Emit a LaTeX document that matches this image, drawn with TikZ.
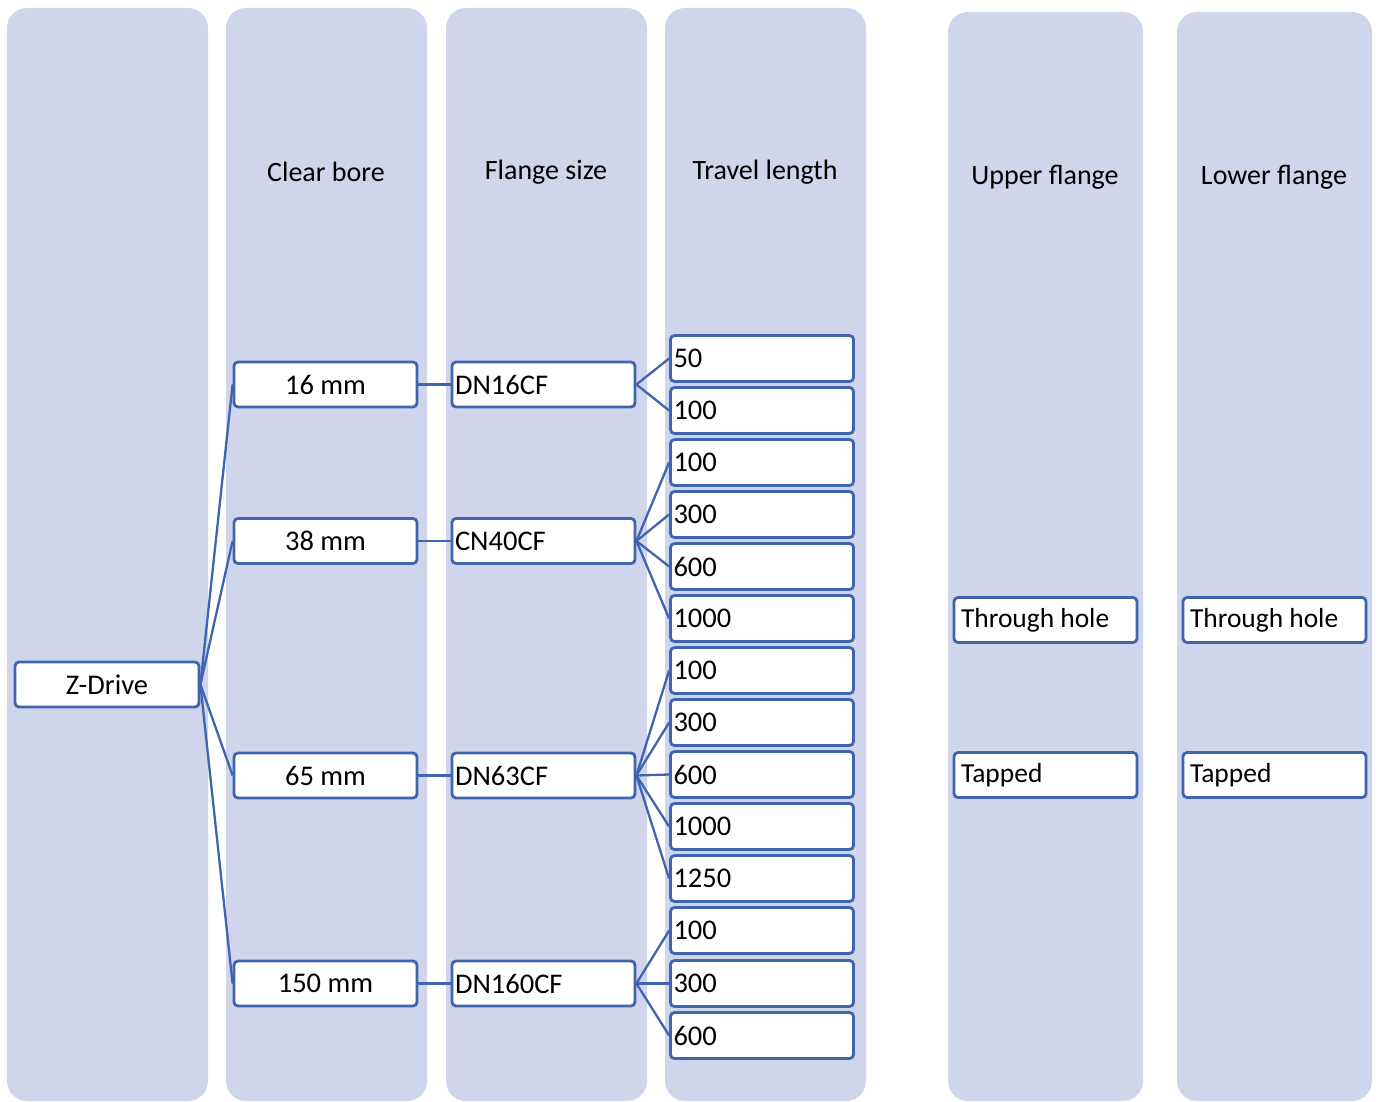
\documentclass[tikz,border=0pt]{standalone}
\usepackage{fontspec}
\setmainfont{Carlito}
\definecolor{colfill}{HTML}{CFD5EA}
\definecolor{edge}{HTML}{3F65B1}
\begin{document}
\begin{tikzpicture}[x=1pt,y=-1pt,
  col/.style={fill=colfill,draw=none,rounded corners=20pt},
  hdr/.style={font=\fontsize{28}{33}\selectfont,text=black},
  bx/.style={draw=edge,line width=2.8pt,fill=white,rounded corners=4pt,
     minimum width=183pt,minimum height=45pt,inner sep=0pt,
     font=\fontsize{28.5}{33}\selectfont},
  lbx/.style={bx,text width=177pt,inner xsep=3pt,align=left},
  fbx/.style={bx,text width=169pt,inner xsep=7pt,align=left,
     font=\fontsize{27.5}{33}\selectfont},
  con/.style={draw=edge,line width=2.3pt}]
\useasboundingbox (0,0) rectangle (1378,1102);
% columns
\fill[col] (7,8) rectangle (208,1101);
\fill[col] (226,8) rectangle (427,1101);
\fill[col] (446,8) rectangle (647,1101);
\fill[col] (665,8) rectangle (866,1101);
\fill[col] (948,12) rectangle (1143,1101);
\fill[col] (1177,12) rectangle (1372,1101);
% headers
\node[hdr] (h1) at (326,172) {Clear bore};
\node[hdr] (h2) at (546,172) {Flange size};
\node[hdr] (h3) at (765,172) {Travel length};
\node[hdr] (h4) at (1045,177) {Upper flange};
\node[hdr] (h5) at (1274,177) {Lower flange};
% root
\node[bx,minimum width=184pt] (z) at (107,684.5) {Z-Drive};
% clear bore
\node[bx] (b1) at (325.5,384.5) {16 mm};
\node[bx] (b2) at (325.5,541) {38 mm};
\node[bx] (b3) at (325.5,775.5) {65 mm};
\node[bx] (b4) at (325.5,983.5) {150 mm};
% flange
\node[lbx] (f1) at (543.5,384.5) {DN16CF};
\node[lbx] (f2) at (543.5,541) {CN40CF};
\node[lbx] (f3) at (543.5,775.5) {DN63CF};
\node[lbx] (f4) at (543.5,983.5) {DN160CF};
% travel
\foreach \n/\y/\t in {t1/358.5/50, t2/410.5/100, t3/462.5/100, t4/514.5/300, t5/566.5/600, t6/618.5/1000,
  t7/670.5/100, t8/722.5/300, t9/774.5/600, t10/826.5/1000, t11/878.5/1250,
  t12/930.5/100, t13/983.5/300, t14/1035.5/600}
  \node[lbx,minimum height=46pt] (\n) at (762,\y) {\t};
% upper/lower flange
\node[fbx] (u1) at (1045.5,620) {Through\hspace{6pt}hole};
\node[fbx] (u2) at (1045.5,775) {Tapped};
\node[fbx] (l1) at (1274.5,620) {Through\hspace{6pt}hole};
\node[fbx] (l2) at (1274.5,775) {Tapped};
% connectors
\foreach \c in {b1,b2,b3,b4} \draw[con] (z.east) -- (\c.west);
\draw[con] (b1.east) -- (f1.west);
\draw[con] (b2.east) -- (f2.west);
\draw[con] (b3.east) -- (f3.west);
\draw[con] (b4.east) -- (f4.west);
\foreach \c in {t1,t2} \draw[con] (f1.east) -- (\c.west);
\foreach \c in {t3,t4,t5,t6} \draw[con] (f2.east) -- (\c.west);
\foreach \c in {t7,t8,t9,t10,t11} \draw[con] (f3.east) -- (\c.west);
\foreach \c in {t12,t13,t14} \draw[con] (f4.east) -- (\c.west);
\end{tikzpicture}
\end{document}
